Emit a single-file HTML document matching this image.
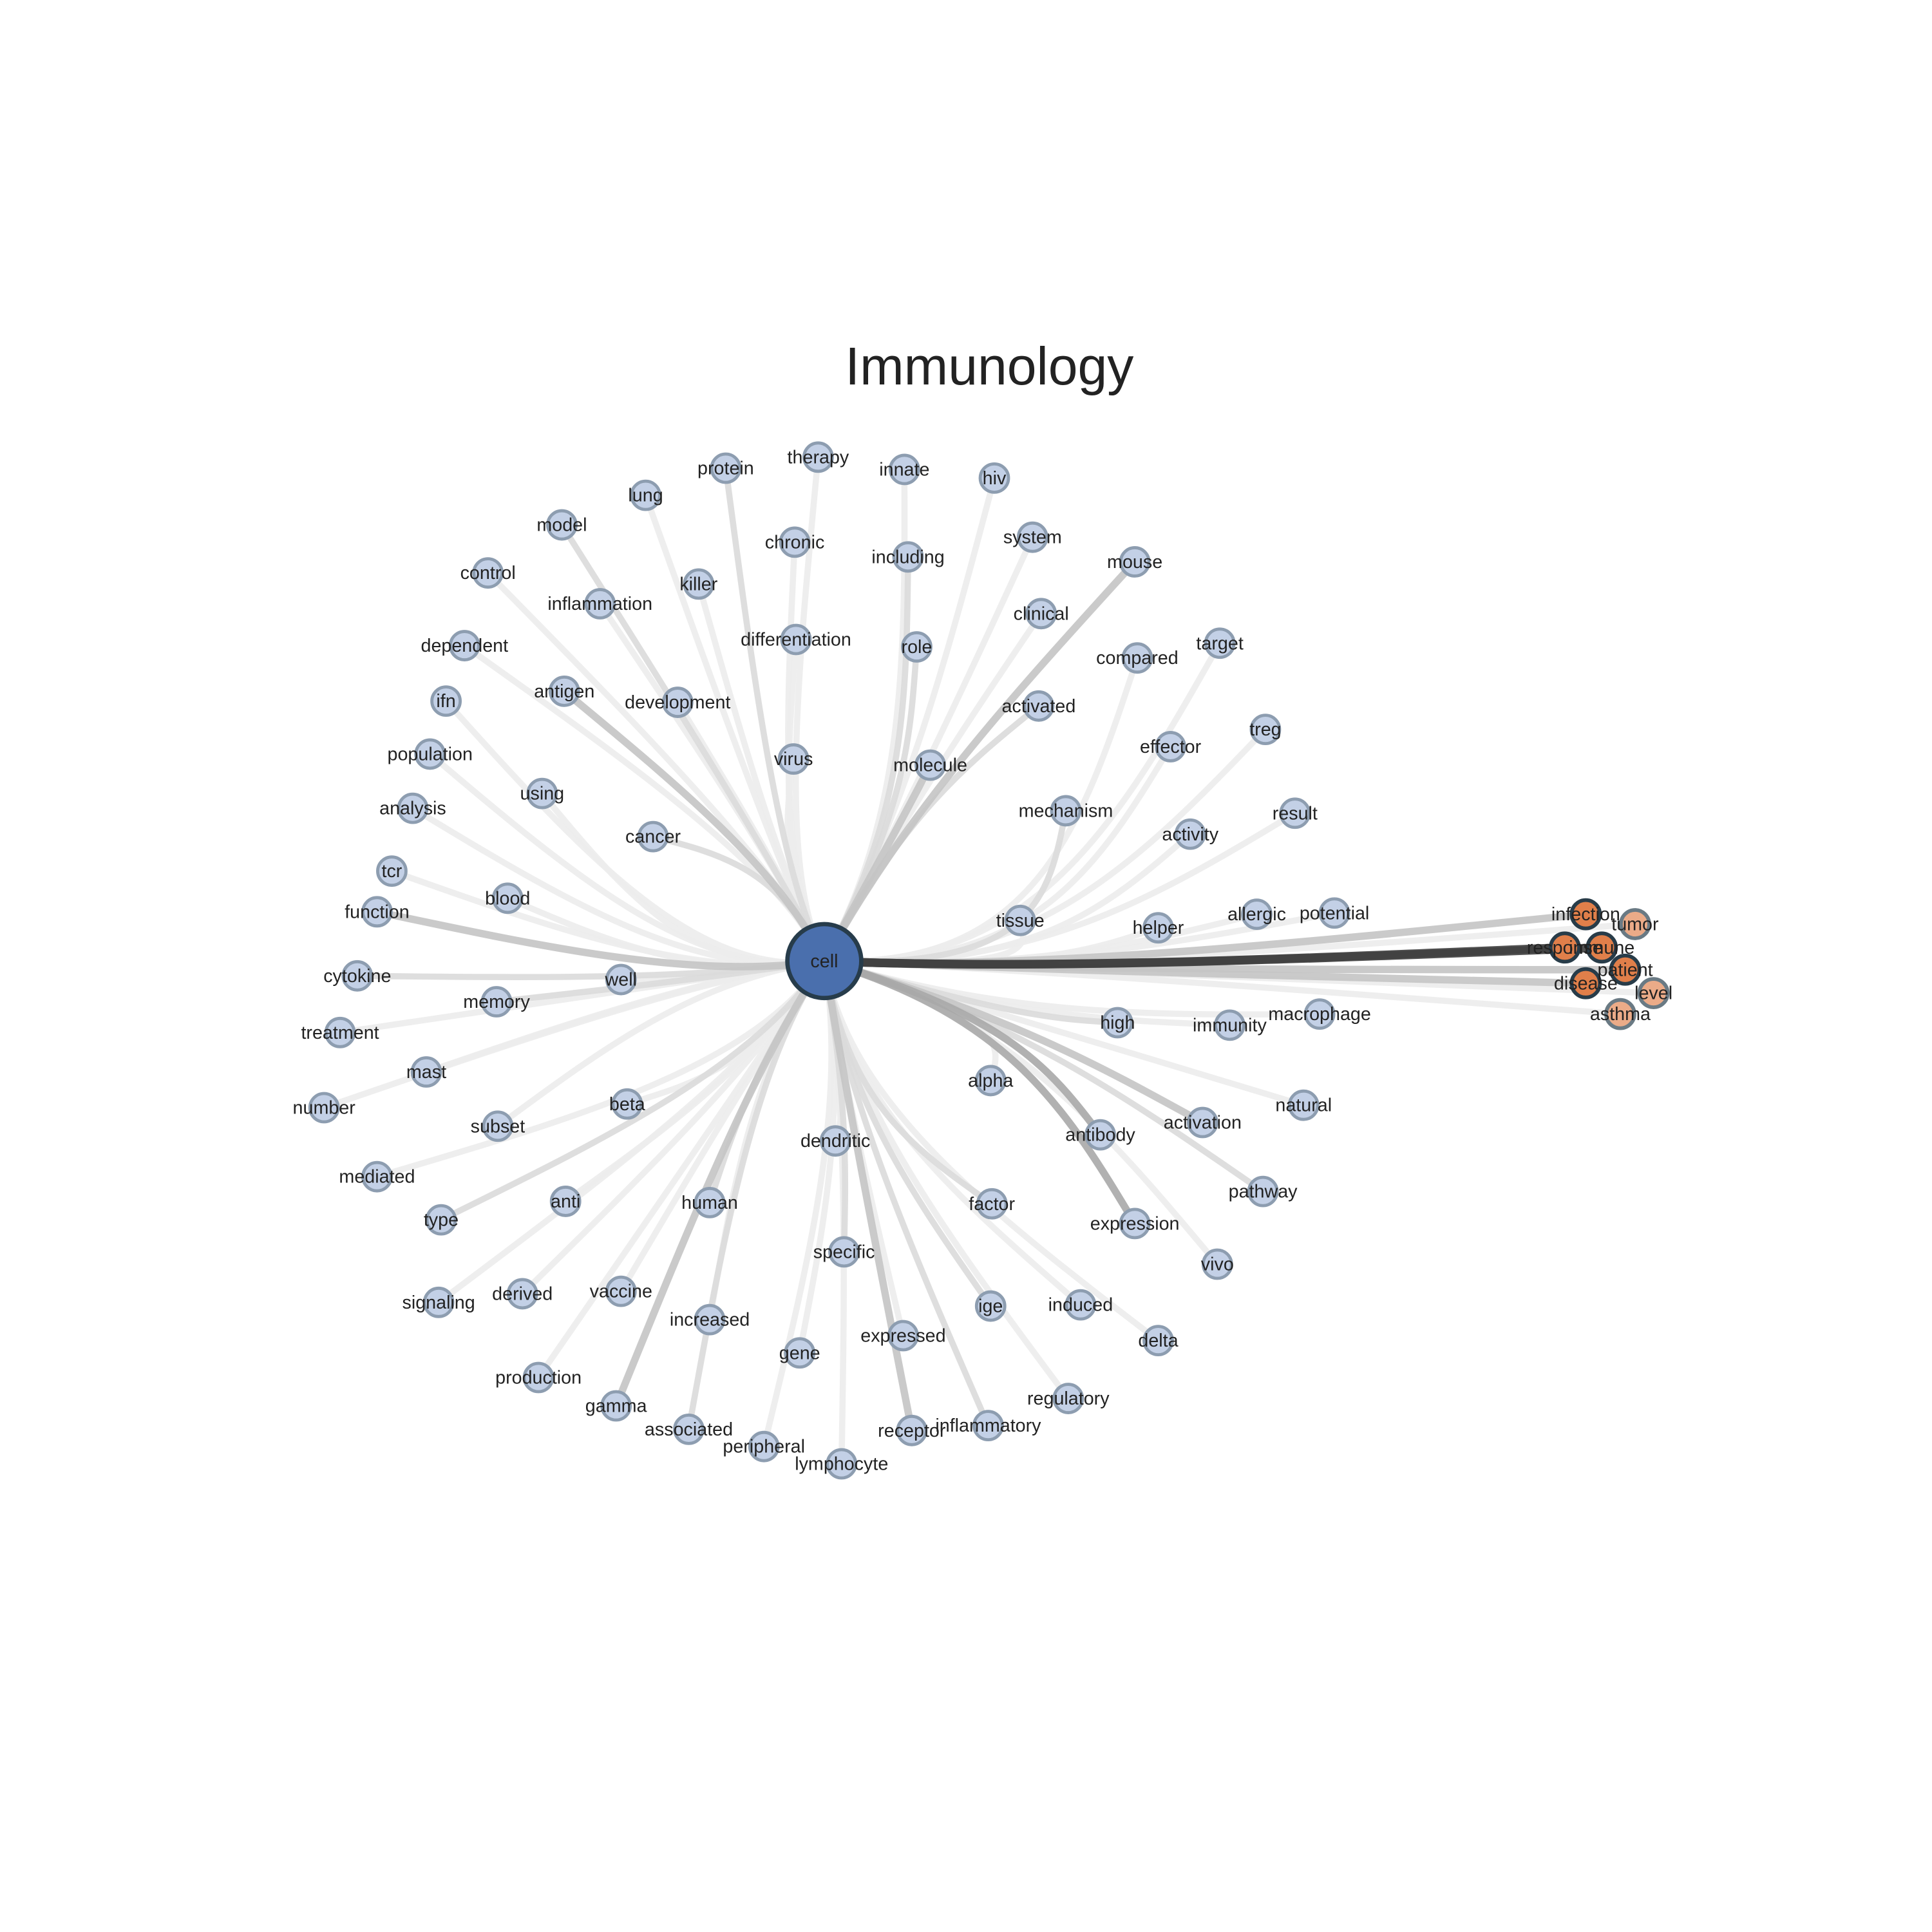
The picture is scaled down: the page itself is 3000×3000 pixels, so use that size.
<!DOCTYPE html>
<html><head><meta charset="utf-8"><style>
html,body{margin:0;padding:0;background:#fff}
svg{display:block}
text{font-family:"Liberation Sans",Arial,sans-serif;fill:#222}
</style></head><body>
<svg id="chart" width="3000" height="3000" viewBox="0 0 1568 1568" xmlns="http://www.w3.org/2000/svg">
<text x="803" y="312" font-size="43" text-anchor="middle">Immunology</text>
<g id="edges"></g>
<g id="nodes"></g>
<g id="labels"></g>
</svg>
<script>
const center = [669, 780];
const hubs = {UL:[632,705], UR:[735,660], R:[840,787], LR:[820,825], L:[565,795], LL:[612,865], D:[688,895]};
const names = ["therapy","protein","lung","model","control","chronic","killer","inflammation","differentiation","dependent","antigen","development","virus","ifn","population","using","cancer","analysis","tcr","blood","function","well","cytokine","memory","treatment","mast","number","subset","beta","mediated","type","anti","signaling","derived","vaccine","human","increased","production","gamma","associated","dendritic","specific","gene","peripheral","lymphocyte","expressed","receptor","inflammatory","ige","regulatory","factor","induced","delta","innate","hiv","including","system","role","clinical","mouse","activated","molecule","compared","target","effector","treg","mechanism","activity","result","tissue","helper","allergic","potential","high","immunity","macrophage","alpha","antibody","activation","natural","expression","pathway","vivo","infection","tumor","response","immune","patient","disease","level","asthma"];
const xs = [664,589,524,456,396,645,567,487,646,377,458,550,644,362,349,440,530,335,318,412,306,504,290,403,276,346,263,404,509,306,358,459,356,424,504,576,576,437,500,559,678,685,649,620,683,733,740,802,804,867,805,877,940,734,807,737,838,744,845,921,843,755,923,990,950,1027,865,966,1051,828,940,1020,1083,907,998,1071,804,893,976,1058,921,1025,988,1287,1327,1270,1300,1319,1287,1342,1315];
const ys = [371,380,402,426,465,440,474,490,519,524,561,570,616,569,612,644,679,656,707,729,740,795,792,813,838,870,899,914,896,955,990,975,1057,1050,1048,976,1071,1118,1141,1160,926,1016,1098,1174,1188,1084,1161,1157,1060,1135,977,1059,1088,381,388,452,436,525,498,456,573,621,534,522,606,592,658,677,660,747,753,742,741,830,832,823,877,921,911,897,993,967,1026,742,750,769,769,787,798,806,823];
const weights = [1,2,1,2,1,1,1,1,1,1,3,1,1,1,1,1,2,1,1,1,3,1,2,2,1,1,1,1,1,1,2,1,1,1,1,2,1,1,3,2,1,2,1,1,1,1,3,2,2,1,2,1,1,1,1,2,1,2,1,3,2,3,1,1,1,1,2,1,1,1,1,1,1,2,1,1,1,4,3,1,4,2,1,3,1,5,5,3,3,1,1];
const groups = ["UL","UL","UL","UL","UL","UL","UL","UL","UL","UL","UL","UL","UL","L","L","L","UL","L","L","L","L","L","L","L","L","L","L","L","LL","LL","LL","LL","LL","LL","LL","LL","LL","LL","LL","LL","D","D","D","D","D","D","D","D","D","D","D","D","D","UR","UR","UR","UR","UR","UR","UR","UR","UR","R","R","R","R","R","R","R","R","R","R","R","LR","LR","LR","LR","LR","LR","LR","LR","LR","LR","R","R","R","R","R","R","R","R"];
const kinds = names.map((n,i)=> i>=83 ? ([84,89,90].includes(i) ? "orange-light" : "orange") : "term");

const NS="http://www.w3.org/2000/svg";
const eg=document.getElementById('edges'), ng=document.getElementById('nodes'), lg=document.getElementById('labels');
const ecol={1:"#ececec",2:"#dadada",3:"#c4c4c4",4:"#a9a9a9",5:"#404040"};
const ewid={1:5,2:5,3:6,4:6,5:7};
const order=names.map((n,i)=>i).sort((a,b)=>weights[a]-weights[b]);
order.forEach(i=>{
  const h=hubs[groups[i]];
  const c2x=h[0]+0.45*(xs[i]-h[0]), c2y=h[1]+0.45*(ys[i]-h[1]);
  const p=document.createElementNS(NS,'path');
  p.setAttribute('d',`M${center[0]},${center[1]} C${h[0]},${h[1]} ${c2x},${c2y} ${xs[i]},${ys[i]}`);
  p.setAttribute('fill','none');
  p.setAttribute('stroke',ecol[weights[i]]);
  p.setAttribute('stroke-width',ewid[weights[i]]);
  p.setAttribute('stroke-linecap','round');
  p.setAttribute('opacity','0.9');
  
  
  eg.appendChild(p);
});
names.forEach((n,i)=>{
  const c=document.createElementNS(NS,'circle');
  c.setAttribute('cx',xs[i]);c.setAttribute('cy',ys[i]);c.setAttribute('r',11.5);
  let fill="#c3d0e6",stroke="#8d9db0",sw=2.5;
  if(kinds[i]==="orange"){fill="#e07f4a";stroke="#283c49";sw=3;}
  if(kinds[i]==="orange-light"){fill="#ebab88";stroke="#6a7a84";sw=3;}
  c.setAttribute('fill',fill);c.setAttribute('stroke',stroke);c.setAttribute('stroke-width',sw);
  
  
  ng.appendChild(c);
});
const cc=document.createElementNS(NS,'circle');
cc.setAttribute('cx',center[0]);cc.setAttribute('cy',center[1]);cc.setAttribute('r',30);
cc.setAttribute('fill','#4a6fad');cc.setAttribute('stroke','#273c4b');cc.setAttribute('stroke-width',3.5);


ng.appendChild(cc);
names.concat(["cell"]).forEach((n,i)=>{
  const t=document.createElementNS(NS,'text');
  const x=i<names.length?xs[i]:center[0], y=i<names.length?ys[i]:center[1];
  t.setAttribute('x',x);t.setAttribute('y',y+5);
  t.setAttribute('font-size',15);t.setAttribute('text-anchor','middle');
  t.textContent=n;
  
  
  lg.appendChild(t);
});
</script>
</body></html>
